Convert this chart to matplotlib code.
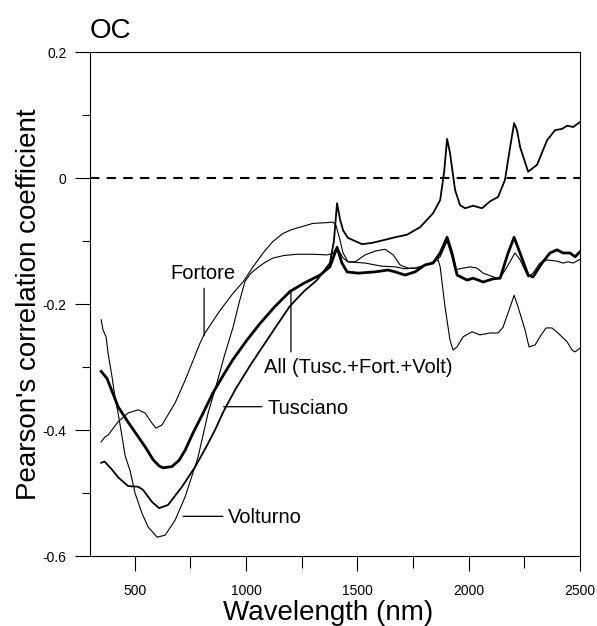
import matplotlib
matplotlib.use("Agg")
import matplotlib.pyplot as plt

plt.rcParams['font.family'] = ['Liberation Sans', 'DejaVu Sans']

# ---- data (wavelength nm, Pearson r) ----
wl_volt = [350, 358, 372, 381, 399, 412, 426, 444, 457, 480, 502, 533, 561, 601, 637,
           682, 727, 785, 830, 870, 905, 942, 970, 996, 1020, 1050, 1085, 1122, 1170, 1229,
           1300, 1364, 1390, 1409, 1436, 1458, 1490, 1535, 1580, 1625, 1661, 1692, 1728,
           1773, 1804, 1863, 1872, 1894, 1916, 1930, 1948, 1975, 2015, 2051, 2096, 2132,
           2154, 2186, 2204, 2222, 2253, 2271, 2298, 2320, 2347, 2374, 2401, 2442, 2464,
           2478, 2500]
r_volt = [-0.225, -0.241, -0.252, -0.278, -0.316, -0.348, -0.373, -0.411, -0.440, -0.465,
          -0.500, -0.532, -0.554, -0.570, -0.567, -0.543, -0.506, -0.443, -0.373, -0.325,
          -0.280, -0.237, -0.197, -0.164, -0.152, -0.143, -0.134, -0.127, -0.123, -0.121,
          -0.121, -0.122, -0.120, -0.110, -0.127, -0.133, -0.133, -0.122, -0.116, -0.113,
          -0.122, -0.138, -0.143, -0.143, -0.138, -0.130, -0.141, -0.205, -0.257, -0.273,
          -0.268, -0.252, -0.244, -0.249, -0.246, -0.246, -0.237, -0.205, -0.186, -0.205,
          -0.241, -0.268, -0.265, -0.252, -0.238, -0.238, -0.246, -0.260, -0.273, -0.276,
          -0.270]

wl_fort = [350, 367, 381, 426, 471, 516, 547, 578, 596, 623, 682, 727, 794, 816, 884,
           942, 987, 1030, 1077, 1120, 1166, 1205, 1243, 1301, 1355, 1391, 1404, 1422,
           1436, 1458, 1535, 1611, 1670, 1714, 1759, 1804, 1840, 1872, 1903, 1925, 1939,
           1961, 2006, 2037, 2065, 2127, 2141, 2172, 2208, 2231, 2267, 2289, 2320, 2352,
           2397, 2424, 2446, 2469, 2500]
r_fort = [-0.419, -0.411, -0.408, -0.387, -0.373, -0.368, -0.373, -0.389, -0.397, -0.392,
          -0.357, -0.321, -0.262, -0.246, -0.210, -0.183, -0.165, -0.142, -0.119, -0.101,
          -0.088, -0.082, -0.078, -0.072, -0.071, -0.070, -0.075, -0.098, -0.119, -0.133,
          -0.135, -0.140, -0.141, -0.144, -0.143, -0.138, -0.135, -0.125, -0.100, -0.125,
          -0.146, -0.144, -0.141, -0.143, -0.151, -0.159, -0.159, -0.141, -0.119, -0.130,
          -0.157, -0.151, -0.135, -0.130, -0.132, -0.135, -0.133, -0.135, -0.129]

wl_tusc = [350, 365, 399, 426, 471, 516, 538, 578, 610, 650, 713, 771, 820, 861, 900, 955,
           1018, 1095, 1150, 1198, 1260, 1319, 1377, 1395, 1409, 1422, 1436, 1458, 1521,
           1566, 1625, 1670, 1723, 1782, 1840, 1872, 1890, 1903, 1916, 1939, 1961, 1984,
           2020, 2060, 2096, 2132, 2163, 2186, 2204, 2217, 2231, 2267, 2307, 2352, 2388,
           2419, 2442, 2469, 2500]
r_tusc = [-0.452, -0.450, -0.463, -0.475, -0.489, -0.490, -0.495, -0.514, -0.524, -0.519,
          -0.490, -0.459, -0.428, -0.400, -0.370, -0.334, -0.298, -0.257, -0.228, -0.203,
          -0.180, -0.162, -0.135, -0.100, -0.040, -0.065, -0.083, -0.095, -0.105, -0.103,
          -0.098, -0.094, -0.090, -0.078, -0.056, -0.035, 0.010, 0.062, 0.040, -0.019,
          -0.043, -0.048, -0.044, -0.048, -0.037, -0.030, -0.003, 0.049, 0.087, 0.076,
          0.049, 0.010, 0.021, 0.060, 0.076, 0.078, 0.083, 0.081, 0.089]

wl_all = [350, 376, 426, 470, 511, 550, 583, 610, 628, 668, 700, 727, 762, 805, 852, 900,
          942, 1005, 1063, 1130, 1198, 1260, 1333, 1377, 1409, 1431, 1454, 1503, 1580,
          1638, 1670, 1714, 1759, 1804, 1840, 1872, 1903, 1925, 1948, 1993, 2020, 2065,
          2110, 2141, 2177, 2204, 2222, 2267, 2289, 2329, 2365, 2397, 2424, 2455, 2478,
          2500]
r_all = [-0.307, -0.318, -0.363, -0.387, -0.408, -0.428, -0.447, -0.457, -0.460, -0.458,
         -0.448, -0.432, -0.405, -0.375, -0.341, -0.312, -0.288, -0.257, -0.231, -0.204,
         -0.180, -0.167, -0.154, -0.141, -0.110, -0.135, -0.149, -0.151, -0.149, -0.146,
         -0.149, -0.154, -0.149, -0.138, -0.135, -0.119, -0.094, -0.119, -0.154, -0.162,
         -0.159, -0.165, -0.160, -0.159, -0.119, -0.094, -0.111, -0.154, -0.157, -0.135,
         -0.119, -0.114, -0.119, -0.119, -0.125, -0.117]

fig = plt.figure(figsize=(5.97, 6.26), dpi=100)
ax = fig.add_axes([0.1508, 0.1118, 0.8208, 0.8051])

ax.axhline(0, color='black', lw=1.5, dashes=(4.5, 3.5))

ax.plot(wl_volt, r_volt, color='black', lw=0.8)
ax.plot(wl_fort, r_fort, color='black', lw=0.8)
ax.plot(wl_tusc, r_tusc, color='black', lw=1.3)
ax.plot(wl_all, r_all, color='black', lw=2.0)

# labels with leader lines
lead = dict(arrowstyle='-', color='black', lw=0.9, shrinkA=0, shrinkB=0)
ax.annotate('', xy=(812, -0.250), xytext=(812, -0.175), arrowprops=lead)
ax.text(805, -0.152, 'Fortore', fontsize=14.5, ha='center', va='center')

ax.annotate('', xy=(1202, -0.178), xytext=(1202, -0.276), arrowprops=lead)
ax.text(1081, -0.300, 'All (Tusc.+Fort.+Volt)', fontsize=14.5, ha='left', va='center')

ax.annotate('', xy=(900, -0.363), xytext=(1072, -0.363), arrowprops=lead)
ax.text(1099, -0.366, 'Tusciano', fontsize=14.5, ha='left', va='center')

ax.annotate('', xy=(718, -0.537), xytext=(897, -0.537), arrowprops=lead)
ax.text(920, -0.539, 'Volturno', fontsize=14.5, ha='left', va='center')

ax.set_xlim(300, 2500)
ax.set_ylim(-0.6, 0.2)
ax.set_xticks([500, 1000, 1500, 2000, 2500])
ax.set_xticks([750, 1250, 1750, 2250], minor=True)
ax.set_yticks([-0.6, -0.4, -0.2, 0, 0.2])
ax.set_yticklabels(['-0.6', '-0.4', '-0.2', '0', '0.2'])
ax.set_yticks([-0.5, -0.3, -0.1, 0.1], minor=True)
ax.tick_params(which='major', direction='out', length=11, width=0.8, labelsize=10)
ax.tick_params(axis='x', which='major', pad=9)
ax.tick_params(axis='y', which='major', pad=6)
ax.tick_params(axis='x', which='minor', direction='out', length=8.5, width=0.8)
ax.tick_params(axis='y', which='minor', direction='out', length=5.5, width=0.8)
for s in ax.spines.values():
    s.set_linewidth(0.8)

ax.set_xlabel('Wavelength (nm)', fontsize=20)
ax.set_ylabel("Pearson's correlation coefficient", fontsize=20)
ax.xaxis.set_label_coords(0.485, -0.088)
ax.yaxis.set_label_coords(-0.097, 0.5)
ax.set_title('OC', loc='left', fontsize=20, pad=10)

plt.savefig('out.png', dpi=100)
